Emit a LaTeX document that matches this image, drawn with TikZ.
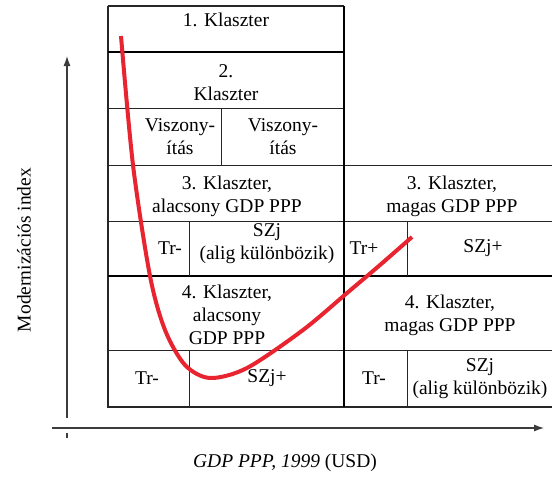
\documentclass[tikz,border=0pt]{standalone}
\usepackage{fontspec}
\setmainfont{Liberation Serif}
\usetikzlibrary{arrows.meta}
\definecolor{curvered}{RGB}{232,36,48}
\definecolor{axisgray}{RGB}{60,60,60}
\begin{document}
\begin{tikzpicture}[x=1pt,y=-1pt,
  cell/.style={align=center, inner sep=0pt, font=\fontsize{19.5}{23}\selectfont},
  thinline/.style={line width=0.9pt, draw=black!85},
  outline/.style={line width=1.3pt, draw=black!85},
  thickline/.style={line width=2.2pt, draw=black},
  axisline/.style={line width=1.1pt, draw=axisgray, -{Latex[length=10pt,width=7pt]}},
  curveline/.style={line width=4pt, draw=curvered, line cap=butt, line join=round}]
\useasboundingbox (0,0) rectangle (552,477);
\clip (0,0) rectangle (552,477);
% table lines
\draw[outline] (108,6) -- (344,6);
\draw[outline] (108,6) -- (108,407) -- (556,407);
\draw[thinline] (108,108) -- (344,108);
\draw[thinline] (108,165) -- (556,165);
\draw[thinline] (108,221) -- (556,221);
\draw[thinline] (108,350) -- (556,350);
\draw[thickline] (108,52) -- (344,52);
\draw[thickline] (108,276) -- (556,276);
\draw[thickline] (344,6) -- (344,407);
\draw[thinline] (221,108) -- (221,165);
\draw[thinline] (189,221) -- (189,276);
\draw[thinline] (407,221) -- (407,276);
\draw[thinline] (189,350) -- (189,407);
\draw[thinline] (407,350) -- (407,407);
% cell texts
\node[cell] (k1) at (226,20) {1. Klaszter};
\node[cell] (k2) at (226,83) {2.\\Klaszter};
\node[cell] (v1) at (180,137) {Viszony-\\ítás};
\node[cell] (v2) at (283,137) {Viszony-\\ítás};
\node[cell] (k3a) at (227,196) {3. Klaszter,\\alacsony GDP PPP};
\node[cell] (k3m) at (452,196) {3. Klaszter,\\magas GDP PPP};
\node[cell] (t1) at (170,248) {Tr-};
\node[cell] (s1) at (267,244) {SZj\\(alig különbözik)};
\node[cell] (t2) at (364,248) {Tr+};
\node[cell] (s2) at (483,248) {SZj+};
\node[cell] (k4a) at (227,315) {4. Klaszter,\\alacsony\\GDP PPP};
\node[cell] (k4m) at (450,315) {4. Klaszter,\\magas GDP PPP};
\node[cell] (t3) at (147,378) {Tr-};
\node[cell] (s3) at (267,378) {SZj+};
\node[cell] (t4) at (374,378) {Tr-};
\node[cell] (s4) at (480,379) {SZj\\(alig különbözik)};
% axes
\coordinate (yb) at (67,418);
\coordinate (yt) at (67,56);
\coordinate (xl) at (52,428);
\coordinate (xr) at (544,428);
\coordinate (tk1) at (67,433);
\coordinate (tk2) at (67,438);
\draw[axisline] (yb) -- (yt);
\draw[axisline] (xl) -- (xr);
\draw[line width=1.1pt, draw=axisgray] (tk1) -- (tk2);
\node[cell, rotate=90] (ylab) at (24,250) {Modernizációs index};
\node[cell] (xlab) at (285,463) {\textit{GDP PPP, 1999} (USD)};
% curve
\draw[curveline] plot[smooth, tension=0.5] coordinates {
  (121,36) (133,165) (150,276) (165,330) (185,365) (210,378)
  (247,368) (303,330) (347,293) (380,265) (412,237)};
\end{tikzpicture}
\end{document}
